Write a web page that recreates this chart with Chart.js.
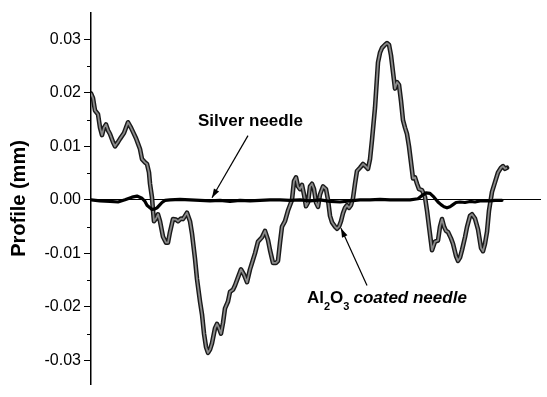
<!DOCTYPE html>
<html>
<head>
<meta charset="utf-8">
<script src="https://cdn.jsdelivr.net/npm/chart.js@4.4.1/dist/chart.umd.min.js"></script>
<style>
  html, body { margin: 0; padding: 0; background: #fff; }
  #wrap { width: 547px; height: 397px; }
</style>
</head>
<body>
<div id="wrap"><canvas id="c" width="547" height="397"></canvas></div>
<script>
// ---- data (position along scan, arbitrary units; profile in mm) ----
const alX = [0,2,4,7,9,11,13,15,17,19,22,24,27,29,33,37,40,42,45,47,49,51,54,56,58,59,61,62,63,65,67,69,72,75,77,79,82,85,87,90,92,96,99,101,104,106,109,111,113,115,117,119,121,124,126,128,130,132,134,137,139,142,144,147,150,153,156,159,161,164,167,171,174,177,179,182,185,187,189,191,194,197,199,201,203,205,207,209,211,213,215,217,219,221,223,225,227,229,232,235,237,239,241,244,246,248,250,252,254,256,258,260,262,264,266,269,272,275,277,279,281,284,287,289,291,294,296,298,300,302,304,306,308,310,312,314,316,318,320,322,324,326,328,331,334,336,338,341,344,347,349,351,353,355,357,360,362,365,367,369,371,374,376,379,381,384,387,390,392,394,396,398,401,404,407,410,412,414,416];
const alY = [0.0199,0.0190,0.0167,0.0160,0.0135,0.0121,0.0135,0.0141,0.0130,0.0123,0.0108,0.0100,0.0108,0.0114,0.0125,0.0145,0.0135,0.0127,0.0115,0.0105,0.0095,0.0076,0.0070,0.0067,0.0051,0.0030,0.0004,-0.0020,-0.0040,-0.0035,-0.0027,-0.0040,-0.0069,-0.0080,-0.0080,-0.0060,-0.0036,-0.0037,-0.0040,-0.0035,-0.0036,-0.0024,-0.0040,-0.0063,-0.0110,-0.0148,-0.0190,-0.0214,-0.0250,-0.0275,-0.0286,-0.0280,-0.0268,-0.0240,-0.0232,-0.0240,-0.0250,-0.0230,-0.0203,-0.0190,-0.0172,-0.0168,-0.0160,-0.0145,-0.0130,-0.0140,-0.0154,-0.0130,-0.0118,-0.0100,-0.0078,-0.0070,-0.0058,-0.0075,-0.0094,-0.0118,-0.0118,-0.0114,-0.0080,-0.0050,-0.0040,-0.0020,-0.0010,0.0000,0.0035,0.0042,0.0025,0.0020,0.0028,0.0010,-0.0012,-0.0005,0.0025,0.0030,0.0020,-0.0005,-0.0013,0.0010,0.0025,0.0020,0.0000,-0.0030,-0.0042,-0.0050,-0.0054,-0.0050,-0.0040,-0.0025,-0.0015,-0.0010,-0.0015,-0.0010,0.0003,0.0030,0.0054,0.0060,0.0067,0.0062,0.0058,0.0076,0.0112,0.0172,0.0257,0.0275,0.0284,0.0290,0.0293,0.0290,0.0270,0.0239,0.0208,0.0220,0.0215,0.0185,0.0149,0.0135,0.0123,0.0100,0.0070,0.0040,0.0042,0.0030,0.0020,0.0018,0.0005,-0.0020,-0.0050,-0.0094,-0.0078,-0.0076,-0.0050,-0.0036,-0.0050,-0.0058,-0.0060,-0.0072,-0.0082,-0.0105,-0.0114,-0.0108,-0.0094,-0.0070,-0.0051,-0.0030,-0.0027,-0.0035,-0.0055,-0.0090,-0.0096,-0.0082,-0.0060,-0.0020,0.0015,0.0033,0.0051,0.0060,0.0063,0.0058,0.0060];

const agX = [0,9,19,27,34,41,46,51,54,56,59,61,64,66,69,71,74,79,89,99,109,119,129,139,149,159,169,179,189,199,209,219,229,239,249,259,269,279,289,299,309,319,327,331,335,339,343,347,350,353,356,359,362,365,369,374,379,384,389,394,399,404,411];
const agY = [0.0000,-0.0002,-0.0003,-0.0004,0.0000,0.0005,0.0007,0.0003,-0.0003,-0.0010,-0.0015,-0.0018,-0.0017,-0.0015,-0.0009,-0.0005,-0.0001,0.0000,0.0001,0.0000,-0.0001,-0.0002,-0.0001,-0.0003,-0.0001,-0.0002,-0.0001,0.0000,0.0000,-0.0001,0.0000,-0.0002,0.0000,-0.0003,-0.0004,-0.0002,0.0000,0.0000,0.0001,0.0000,0.0000,0.0000,0.0002,0.0008,0.0013,0.0012,0.0005,-0.0004,-0.0009,-0.0013,-0.0015,-0.0013,-0.0009,-0.0005,-0.0004,-0.0005,-0.0003,-0.0004,-0.0002,-0.0002,-0.0002,-0.0001,-0.0001];

const yTickValues = [-0.03, -0.02, -0.01, 0.00, 0.01, 0.02, 0.03];
const yTickLabels = ['-0.03', '-0.02', '-0.01', '0.00', '0.01', '0.02', '0.03'];
const yMinorValues = [-0.025, -0.015, -0.005, 0.005, 0.015, 0.025];

const seriesNames = ['Silver needle', 'Al2O3 coated needle'];

// ---- build ----
const toPts = (xs, ys) => xs.map((x, i) => ({ x: x, y: ys[i] }));
const alPts = toPts(alX, alY);
const agPts = toPts(agX, agY);

const minorTicks = {
  id: 'minorTicks',
  afterDraw(chart) {
    const s = chart.scales.y, c = chart.ctx;
    c.save();
    c.strokeStyle = '#000';
    c.lineWidth = 1;
    yMinorValues.forEach(v => {
      const py = Math.round(s.getPixelForValue(v)) + 0.5;
      c.beginPath();
      c.moveTo(s.right - 4, py);
      c.lineTo(s.right, py);
      c.stroke();
    });
    c.restore();
  }
};

function arrow(c, x1, y1, x2, y2) {
  c.beginPath();
  c.moveTo(x1, y1);
  c.lineTo(x2, y2);
  c.stroke();
  const a = Math.atan2(y2 - y1, x2 - x1), L = 9, W = 3;
  c.beginPath();
  c.moveTo(x2, y2);
  c.lineTo(x2 - L * Math.cos(a) + W * Math.sin(a), y2 - L * Math.sin(a) - W * Math.cos(a));
  c.lineTo(x2 - L * Math.cos(a) - W * Math.sin(a), y2 - L * Math.sin(a) + W * Math.cos(a));
  c.closePath();
  c.fill();
}

const annotations = {
  id: 'annotations',
  afterDraw(chart) {
    const X = v => chart.scales.x.getPixelForValue(v);
    const Y = v => chart.scales.y.getPixelForValue(v);
    const c = chart.ctx;
    c.save();
    c.fillStyle = '#000';
    c.strokeStyle = '#000';
    c.lineWidth = 1.2;
    c.textBaseline = 'alphabetic';
    c.textAlign = 'left';
    // Silver needle label + arrow
    c.font = 'bold 17px "Liberation Sans", Arial, sans-serif';
    c.fillText(seriesNames[0], X(107), Y(0.0138));
    arrow(c, X(157), Y(0.0120), X(121), Y(0.0004));
    // Al2O3 label + arrow
    let x = X(216);
    const by = Y(-0.0192);
    const big = 'bold 17px "Liberation Sans", Arial, sans-serif';
    const sub = 'bold 11px "Liberation Sans", Arial, sans-serif';
    c.font = big; c.fillText('Al', x, by); x += c.measureText('Al').width;
    c.font = sub; c.fillText('2', x, by + 7); x += c.measureText('2').width;
    c.font = big; c.fillText('O', x, by); x += c.measureText('O').width;
    c.font = sub; c.fillText('3', x, by + 7); x += c.measureText('3').width + 4;
    c.font = 'italic bold 17px "Liberation Sans", Arial, sans-serif';
    c.fillText('coated needle', x, by);
    arrow(c, X(276), Y(-0.0160), X(250), Y(-0.0053));
    c.restore();
  }
};

new Chart(document.getElementById('c'), {
  type: 'line',
  data: {
    datasets: [
      { label: seriesNames[0], data: agPts, borderColor: '#000', borderWidth: 3.2,
        pointRadius: 0, tension: 0, borderJoinStyle: 'round', borderCapStyle: 'round' },
      { label: seriesNames[1], data: alPts, borderColor: '#8a8a8a', borderWidth: 1.8,
        pointRadius: 0, tension: 0, borderJoinStyle: 'round' },
      { label: seriesNames[1] + ' outline', data: alPts, borderColor: '#1a1a1a', borderWidth: 4.6,
        pointRadius: 0, tension: 0, borderJoinStyle: 'round', borderCapStyle: 'round' }
    ]
  },
  options: {
    responsive: false,
    devicePixelRatio: 1,
    animation: false,
    events: [],
    layout: { padding: { left: 0, top: 12, right: 6, bottom: 2 } },
    plugins: { legend: { display: false }, tooltip: { enabled: false } },
    scales: {
      x: { type: 'linear', min: 0, max: 450, display: false },
      y: {
        type: 'linear',
        min: -0.0345,
        max: 0.035,
        afterBuildTicks: s => { s.ticks = yTickValues.map(v => ({ value: v })); },
        afterFit: s => { s.width = 91; },
        border: { display: true, color: '#000', width: 1.5 },
        grid: {
          drawOnChartArea: true,
          drawTicks: true,
          tickLength: 7,
          tickColor: '#000',
          lineWidth: 1,
          color: ctx => (ctx.tick && ctx.tick.value === 0) ? '#000' : 'rgba(0,0,0,0)'
        },
        ticks: {
          padding: 3,
          color: '#000',
          font: { family: '"Liberation Sans", Arial, sans-serif', size: 16 },
          callback: (v) => { const i = yTickValues.indexOf(v); return i >= 0 ? yTickLabels[i] : ''; }
        },
        title: {
          display: true,
          text: 'Profile (mm)',
          color: '#000',
          font: { family: '"Liberation Sans", Arial, sans-serif', size: 20, weight: 'bold' },
          padding: { top: 7, bottom: 0 }
        }
      }
    }
  },
  plugins: [minorTicks, annotations]
});
</script>
</body>
</html>
